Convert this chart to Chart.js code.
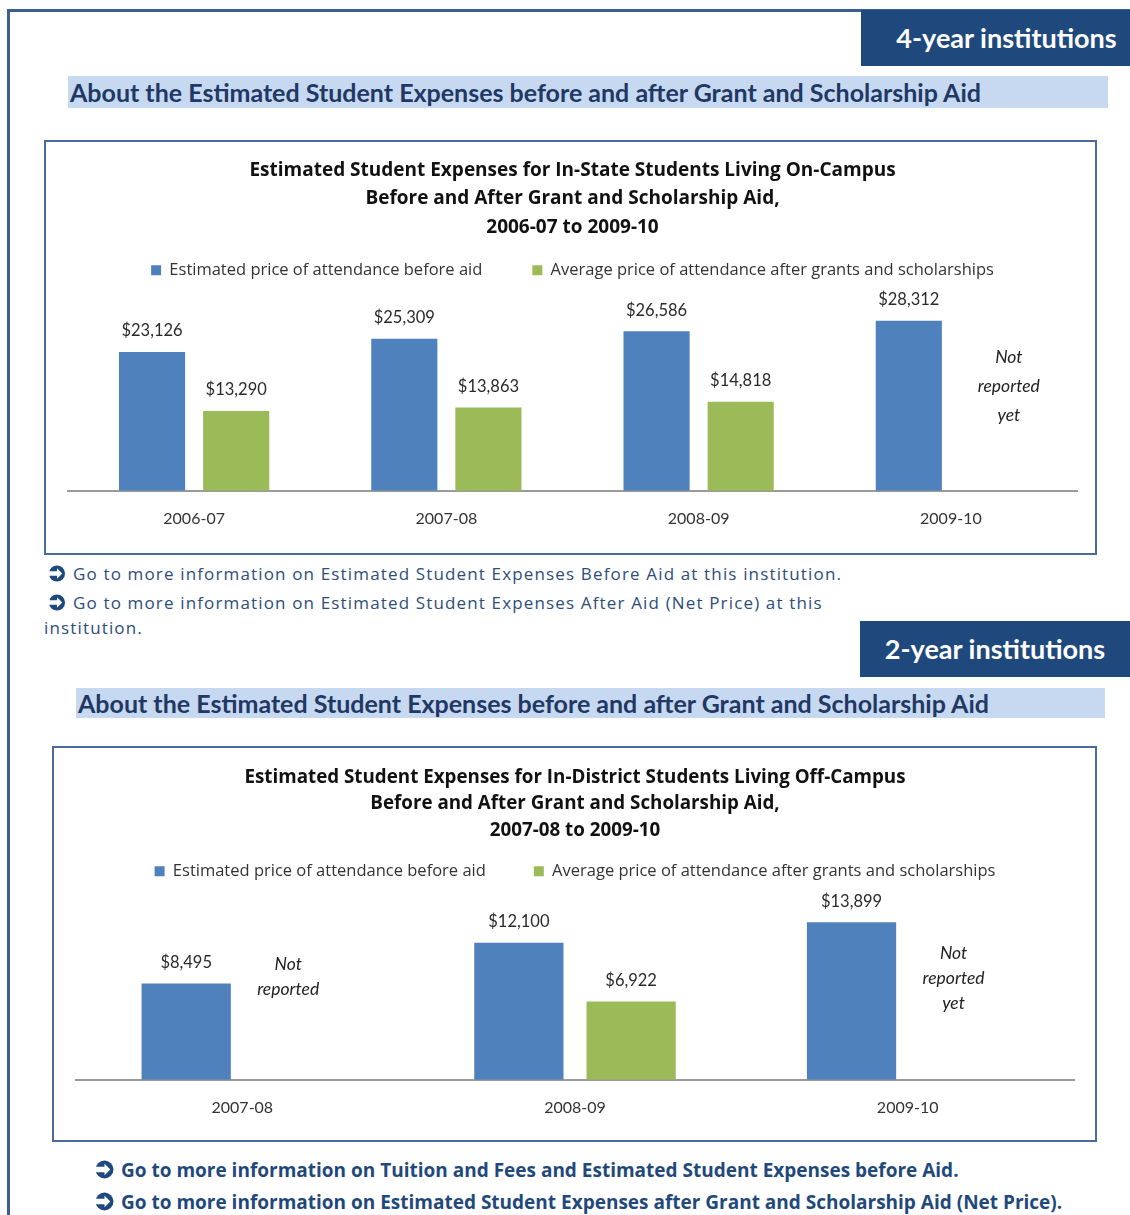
<!DOCTYPE html>
<html>
<head>
<meta charset="utf-8">
<script src="https://cdn.jsdelivr.net/npm/chart.js@4.4.0/dist/chart.umd.min.js"></script>
<style>
  html, body { margin: 0; padding: 0; }
  body { width: 1130px; height: 1215px; position: relative; overflow: hidden; background: #fff; font-family: Lato, 'Open Sans', sans-serif; }
  .frame { position: absolute; left: 7px; top: 9px; width: 1300px; height: 1400px; border-top: 3px solid #3b5f8e; border-left: 3px solid #3b5f8e; }
  .tag { position: absolute; background: #1f497d; color: #fff; font-weight: bold; font-size: 27px; line-height: 56px; height: 56px; text-align: center; }
  .about { position: absolute; background: #c6d9f1; color: #1f3864; font-weight: bold; font-size: 25px; padding-left: 2px; box-sizing: border-box; white-space: nowrap; }
  .box { position: absolute; border: 2px solid #4a6b9b; box-sizing: border-box; background: #fff; }
  .box .wrap { position: absolute; left: 0; top: 0; }
  .link { position: absolute; white-space: nowrap; color: #2d4d7c; }
  .link svg { display: inline-block; vertical-align: -2px; margin-right: 7px; }
  .l1 { font-family: 'Open Sans', sans-serif; font-size: 17px; letter-spacing: 1.15px; }
  .l2 { font-family: 'Open Sans', sans-serif; font-size: 19px; font-weight: bold; color: #1f497d; }
</style>
</head>
<body>
<div class="frame"></div>

<div class="tag" style="left:861px; top:10px; width:269px; padding-left:22px; box-sizing:border-box;">4-year institutions</div>
<div class="about" style="left:68px; top:76px; width:1040px; height:32px; line-height:32px;">About the Estimated Student Expenses before and after Grant and Scholarship Aid</div>

<div class="box" style="left:44px; top:140px; width:1053px; height:415px;">
  <div class="wrap" style="width:1049px; height:411px;"><canvas id="chart4"></canvas></div>
</div>

<div class="link l1" style="left:48px; top:562px;"><svg width="18" height="17" viewBox="0 0 18 18"><circle cx="9" cy="9" r="8.5" fill="#1f497d"/><path d="M0 6.5 H9 V3.5 L14.5 9 L9 14.5 V11.5 H0 Z" fill="#fff"/></svg>Go to more information on Estimated Student Expenses Before Aid at this institution.</div>
<div class="link l1" style="left:48px; top:591px;"><svg width="18" height="17" viewBox="0 0 18 18"><circle cx="9" cy="9" r="8.5" fill="#1f497d"/><path d="M0 6.5 H9 V3.5 L14.5 9 L9 14.5 V11.5 H0 Z" fill="#fff"/></svg>Go to more information on Estimated Student Expenses After Aid (Net Price) at this</div>
<div class="link l1" style="left:44px; top:616px;">institution.</div>

<div class="tag" style="left:860px; top:621px; width:270px;">2-year institutions</div>
<div class="about" style="left:76px; top:688px; width:1029px; height:30px; line-height:30px;">About the Estimated Student Expenses before and after Grant and Scholarship Aid</div>

<div class="box" style="left:52px; top:746px; width:1045px; height:396px;">
  <div class="wrap" style="width:1041px; height:392px;"><canvas id="chart2"></canvas></div>
</div>

<div class="link l2" style="left:95px; top:1157px;"><svg width="19" height="19" viewBox="0 0 18 18"><circle cx="9" cy="9" r="8.5" fill="#1f497d"/><path d="M0 6.5 H9 V3.5 L14.5 9 L9 14.5 V11.5 H0 Z" fill="#fff"/></svg>Go to more information on Tuition and Fees and Estimated Student Expenses before Aid.</div>
<div class="link l2" style="left:95px; top:1189px;"><svg width="19" height="19" viewBox="0 0 18 18"><circle cx="9" cy="9" r="8.5" fill="#1f497d"/><path d="M0 6.5 H9 V3.5 L14.5 9 L9 14.5 V11.5 H0 Z" fill="#fff"/></svg>Go to more information on Estimated Student Expenses after Grant and Scholarship Aid (Net Price).</div>

<script>
// 4-year institutions
const years4 = ['2006-07', '2007-08', '2008-09', '2009-10'];
const before4 = [23126, 25309, 26586, 28312];
const after4 = [13290, 13863, 14818, null];
const title4 = [
    'Estimated Student Expenses for In-State Students Living On-Campus',
    'Before and After Grant and Scholarship Aid,',
    '2006-07 to 2009-10'
];
const notes4 = [{ index: 3, value: 22260, lines: ['Not', 'reported', 'yet'] }];

// 2-year institutions
const years2 = ['2007-08', '2008-09', '2009-10'];
const before2 = [8495, 12100, 13899];
const after2 = [null, 6922, null];
const title2 = [
    'Estimated Student Expenses for In-District Students Living Off-Campus',
    'Before and After Grant and Scholarship Aid,',
    '2007-08 to 2009-10'
];
const notes2 = [
    { index: 0, value: 10200, lines: ['Not', 'reported'] },
    { index: 2, value: 11170, lines: ['Not', 'reported', 'yet'] }
];

const legendBefore = 'Estimated price of attendance before aid';
const legendAfter = 'Average price of attendance after grants and scholarships';

// Dollar labels above the bars
const valueLabels = {
    id: 'valueLabels',
    afterDatasetsDraw(chart) {
        const ctx = chart.ctx;
        ctx.save();
        ctx.font = '16.5px Lato';
        ctx.fillStyle = '#2a2a2a';
        ctx.textAlign = 'center';
        ctx.textBaseline = 'middle';
        chart.data.datasets.forEach((ds, di) => {
            chart.getDatasetMeta(di).data.forEach((bar, i) => {
                const v = ds.data[i];
                if (v == null) return;
                ctx.fillText('$' + v.toLocaleString('en-US'), bar.x, bar.y - 21);
            });
        });
        ctx.restore();
    }
};

// "Not reported" notes in the empty slots
const notReported = {
    id: 'notReported',
    afterDatasetsDraw(chart, args, opts) {
        const ctx = chart.ctx;
        const y = chart.scales.y;
        const meta = chart.getDatasetMeta(0);
        ctx.save();
        ctx.font = 'italic 17.5px Lato';
        ctx.fillStyle = '#222';
        ctx.textAlign = 'center';
        ctx.textBaseline = 'middle';
        (opts.items || []).forEach(n => {
            const x = meta.data[n.index].x + opts.dx;
            const y0 = y.getPixelForValue(n.value);
            n.lines.forEach((line, k) => ctx.fillText(line, x, y0 + k * opts.lineGap));
        });
        ctx.restore();
    }
};

function makeChart(id, cfg) {
    return new Chart(document.getElementById(id), {
        type: 'bar',
        data: {
            labels: cfg.labels,
            datasets: [
                { label: legendBefore, data: cfg.before, backgroundColor: '#4f81bd', borderColor: '#4f81bd' },
                { label: legendAfter, data: cfg.after, backgroundColor: '#9bbb59', borderColor: '#9bbb59' }
            ]
        },
        options: {
            responsive: true,
            maintainAspectRatio: false,
            animation: false,
            categoryPercentage: cfg.catPct,
            barPercentage: cfg.barPct,
            layout: { padding: cfg.padding },
            plugins: {
                title: {
                    display: true,
                    text: cfg.title,
                    color: '#111',
                    font: { family: 'Open Sans', size: cfg.titleSize, weight: 'bold', lineHeight: cfg.titleLine },
                    padding: cfg.titlePad
                },
                legend: {
                    display: true,
                    labels: {
                        boxWidth: 10,
                        boxHeight: 10,
                        padding: cfg.legendGap,
                        color: '#333',
                        font: { family: 'Open Sans', size: 16.5 }
                    }
                },
                tooltip: { enabled: false },
                notReported: { items: cfg.notes, dx: cfg.noteDx, lineGap: cfg.noteGap }
            },
            scales: {
                x: {
                    grid: { display: false, drawTicks: false },
                    border: { display: true, color: '#9a9a9a', width: 2 },
                    ticks: { color: '#333', padding: 18, font: { family: 'Lato', size: 16 } }
                },
                y: {
                    display: false,
                    min: 0,
                    max: cfg.max
                }
            }
        },
        plugins: [valueLabels, notReported]
    });
}

makeChart('chart4', {
    labels: years4,
    before: before4,
    after: after4,
    title: title4,
    notes: notes4,
    max: 33700,
    catPct: 0.667,
    barPct: 0.786,
    padding: { left: 22, right: 18, top: 0, bottom: 7 },
    titleSize: 19,
    titleLine: 28.5 / 19,
    titlePad: { top: 14, bottom: -29.5 },
    legendGap: 50,
    noteDx: 100,
    noteGap: 29
});

makeChart('chart2', {
    labels: years2,
    before: before2,
    after: after2,
    title: title2,
    notes: notes2,
    max: 16800,
    catPct: 0.675,
    barPct: 0.795,
    padding: { left: 22, right: 21, top: 0, bottom: 5 },
    titleSize: 18.8,
    titleLine: 26.5 / 18.8,
    titlePad: { top: 16, bottom: -28.5 },
    legendGap: 48,
    noteDx: 102,
    noteGap: 25
});
</script>
</body>
</html>
